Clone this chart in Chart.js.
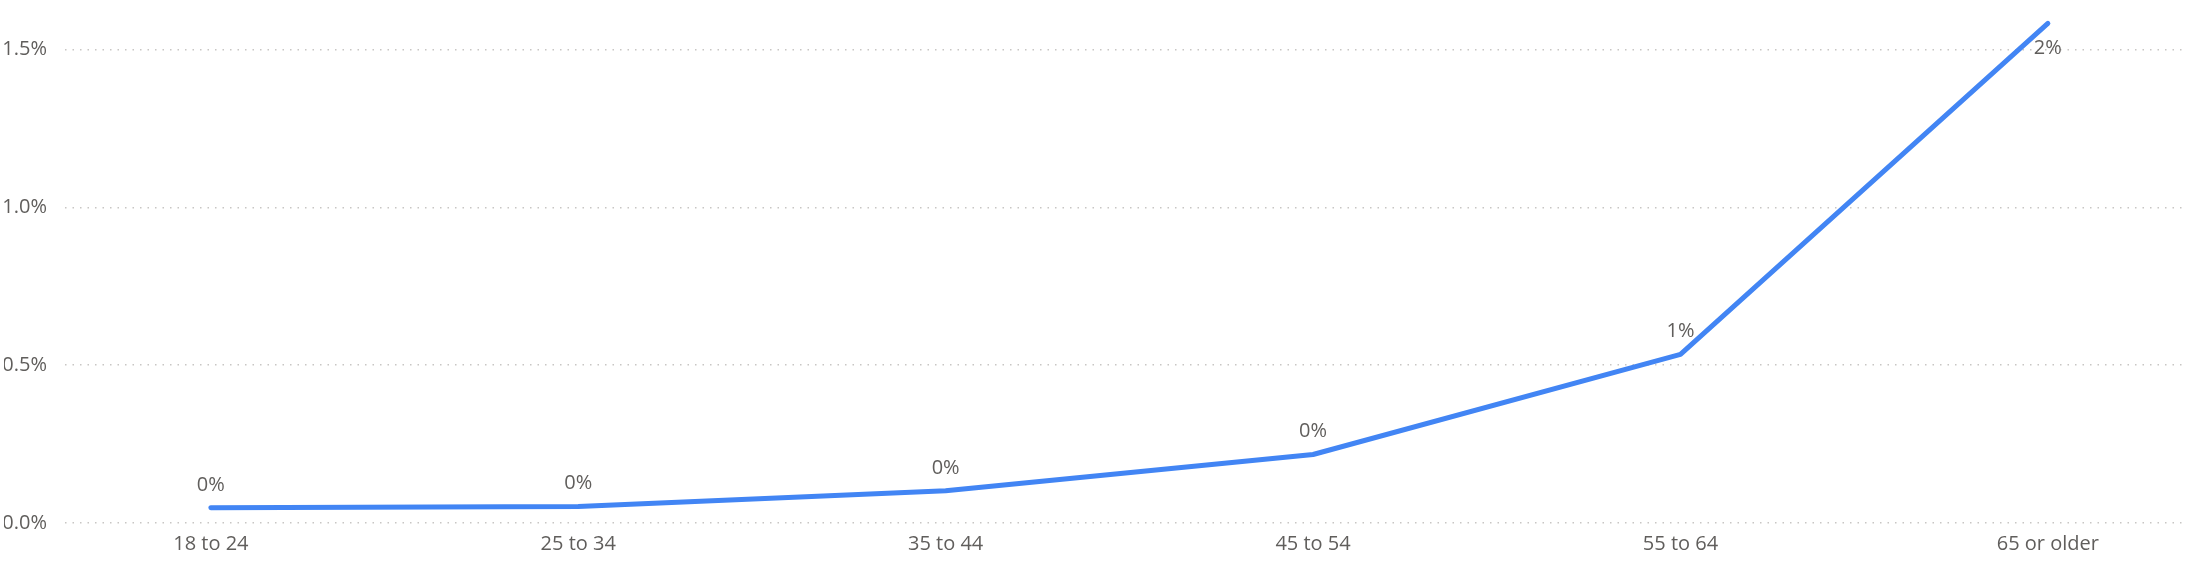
<html lang="en">
<head>
    <meta charset="UTF-8">
    <script src="https://cdn.jsdelivr.net/npm/chart.js@4.4.1/dist/chart.umd.min.js"></script>
    <title>Share by age group</title>
    <style>
        html, body { margin: 0; padding: 0; background: #fff; }
        #wrap { width: 2204px; height: 568px; }
    </style>
</head>
<body>
    <div id="wrap"><canvas id="chart" width="2204" height="568"></canvas></div>
</body>
</html>

<script>
const ageGroups = ['18 to 24', '25 to 34', '35 to 44', '45 to 54', '55 to 64', '65 or older'];
const shareValues = [0.048, 0.052, 0.102, 0.217, 0.534, 1.583];
const yTicks = [0, 0.5, 1.0, 1.5];

const textColor = '#605E5C';
const fontFamily = "'Open Sans', 'Noto Sans', sans-serif";

// value labels above each point, rounded like the original ("0%", "1%", "2%")
const pointLabels = {
    id: 'pointLabels',
    afterDatasetsDraw(chart) {
        const ctx = chart.ctx;
        const meta = chart.getDatasetMeta(0);
        ctx.save();
        ctx.font = '20px ' + fontFamily;
        ctx.fillStyle = textColor;
        ctx.textAlign = 'center';
        ctx.textBaseline = 'middle';
        meta.data.forEach((pt, i) => {
            let y = pt.y - 23;
            if (y - 10 < chart.chartArea.top) y = pt.y + 25;
            ctx.fillText(Math.round(shareValues[i]) + '%', pt.x, y);
        });
        ctx.restore();
    }
};

// keep the library from adding overflow padding for edge labels
function noEdgePadding(scale) {
    scale.paddingLeft = 0;
    scale.paddingRight = 0;
    scale.paddingTop = 0;
    scale.paddingBottom = 0;
}

const ctx = document.getElementById('chart').getContext('2d');
const myChart = new Chart(ctx, {
    type: 'line',
    data: {
        datasets: [{
            data: shareValues.map((v, i) => ({ x: i, y: v })),
            borderColor: '#4285F4',
            borderWidth: 5,
            borderCapStyle: 'round',
            borderJoinStyle: 'round',
            pointRadius: 0,
            tension: 0,
            fill: false
        }]
    },
    plugins: [pointLabels],
    options: {
        responsive: false,
        animation: false,
        layout: { padding: { top: 18, right: 18, bottom: 3, left: 4 } },
        plugins: {
            legend: { display: false },
            tooltip: { enabled: false }
        },
        scales: {
            x: {
                type: 'linear',
                min: -0.397,
                max: 5.376,
                afterBuildTicks: scale => { scale.ticks = ageGroups.map((c, i) => ({ value: i })); },
                afterFit: noEdgePadding,
                grid: { display: false, drawTicks: false },
                border: { display: false },
                ticks: {
                    padding: 9,
                    color: textColor,
                    font: { family: fontFamily, size: 20 },
                    callback: value => ageGroups[value]
                }
            },
            y: {
                min: 0,
                max: 1.6,
                afterBuildTicks: scale => { scale.ticks = yTicks.map(v => ({ value: v })); },
                afterFit: scale => { noEdgePadding(scale); scale.width = 61; },
                border: { display: false, dash: [1.5, 6] },
                grid: {
                    color: '#C8C6C4',
                    lineWidth: 1.5,
                    drawTicks: false
                },
                ticks: {
                    padding: 18,
                    color: textColor,
                    font: { family: fontFamily, size: 20 },
                    callback: value => value.toFixed(1) + '%'
                }
            }
        }
    }
});
</script>
